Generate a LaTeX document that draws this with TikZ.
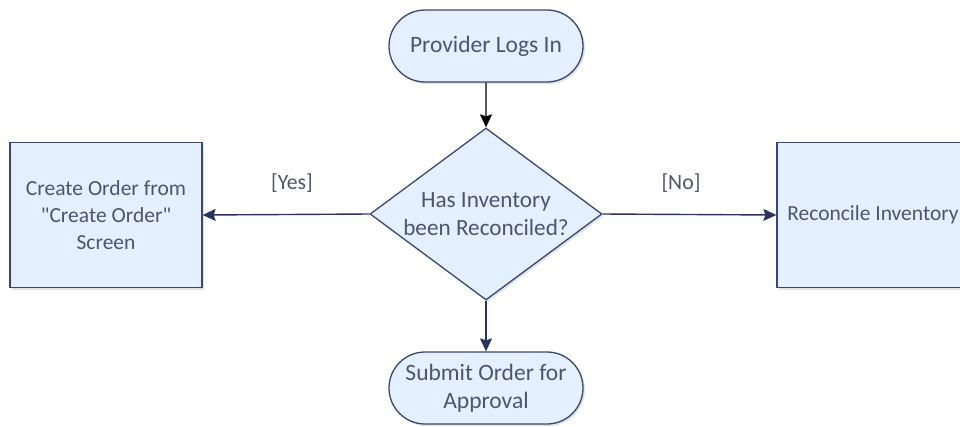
\documentclass[tikz,border=0pt]{standalone}
\usepackage{fontspec}
\setmainfont{Carlito}
\newfontfamily\calib{Carlito}
\usetikzlibrary{shapes.geometric,shapes.misc,arrows.meta,shadows}
\definecolor{boxfill}{RGB}{228,240,255}
\definecolor{boxline}{RGB}{58,70,115}
\definecolor{txt}{RGB}{78,84,112}
\definecolor{arr}{RGB}{40,52,95}
\tikzset{
  shad/.style={drop shadow={shadow xshift=2pt,shadow yshift=-2pt,fill=black!18,opacity=0.6}},
  term/.style={rounded rectangle, draw=boxline, line width=1.3pt, fill=boxfill, shad,
    minimum width=194pt, minimum height=72pt, inner sep=0pt, align=center,
    text=txt, font=\calib\fontsize{23.5}{27.5}\selectfont},
  proc/.style={rectangle, draw=boxline, line width=1.3pt, fill=boxfill, shad,
    minimum width=192pt, minimum height=145pt, inner sep=0pt, align=center,
    text=txt, font=\calib\fontsize{21.5}{27}\selectfont},
  dec/.style={diamond, aspect=1.35, draw=boxline, line width=1.3pt, fill=boxfill, shad,
    minimum width=232pt, minimum height=172pt, inner sep=-14pt, align=center,
    text=txt, font=\calib\fontsize{23.2}{28}\selectfont},
  conn/.style={line width=1.4pt, draw=arr, -{Stealth[length=13pt,width=12pt,inset=2pt]}},
  lbl/.style={text=txt, font=\calib\fontsize{21.8}{24}\selectfont, inner sep=0pt}
}
\begin{document}
\begin{tikzpicture}[x=1pt,y=-1pt]
\useasboundingbox (0,0) rectangle (960,426);
\node[term] (start) at (486,46) {Provider Logs In};
\node[dec] (q) at (486,214) {Has Inventory\\been Reconciled?};
\node[proc] (create) at (106,215) {Create Order from\\"Create Order"\\Screen};
\node[proc] (recon) at (873,215) {Reconcile Inventory};
\node[term] (submit) at (486,388) {Submit Order for\\Approval};
\draw[conn, draw=black] (start) -- (q);
\draw[conn] (q.west) -- (create.east);
\draw[conn] (q.east) -- (recon.west);
\draw[conn] (q.south) -- (submit.north);
\node[lbl] (yes) at (292,183) {[Yes]};
\node[lbl] (no) at (681,183) {[No]};
\end{tikzpicture}
\end{document}
